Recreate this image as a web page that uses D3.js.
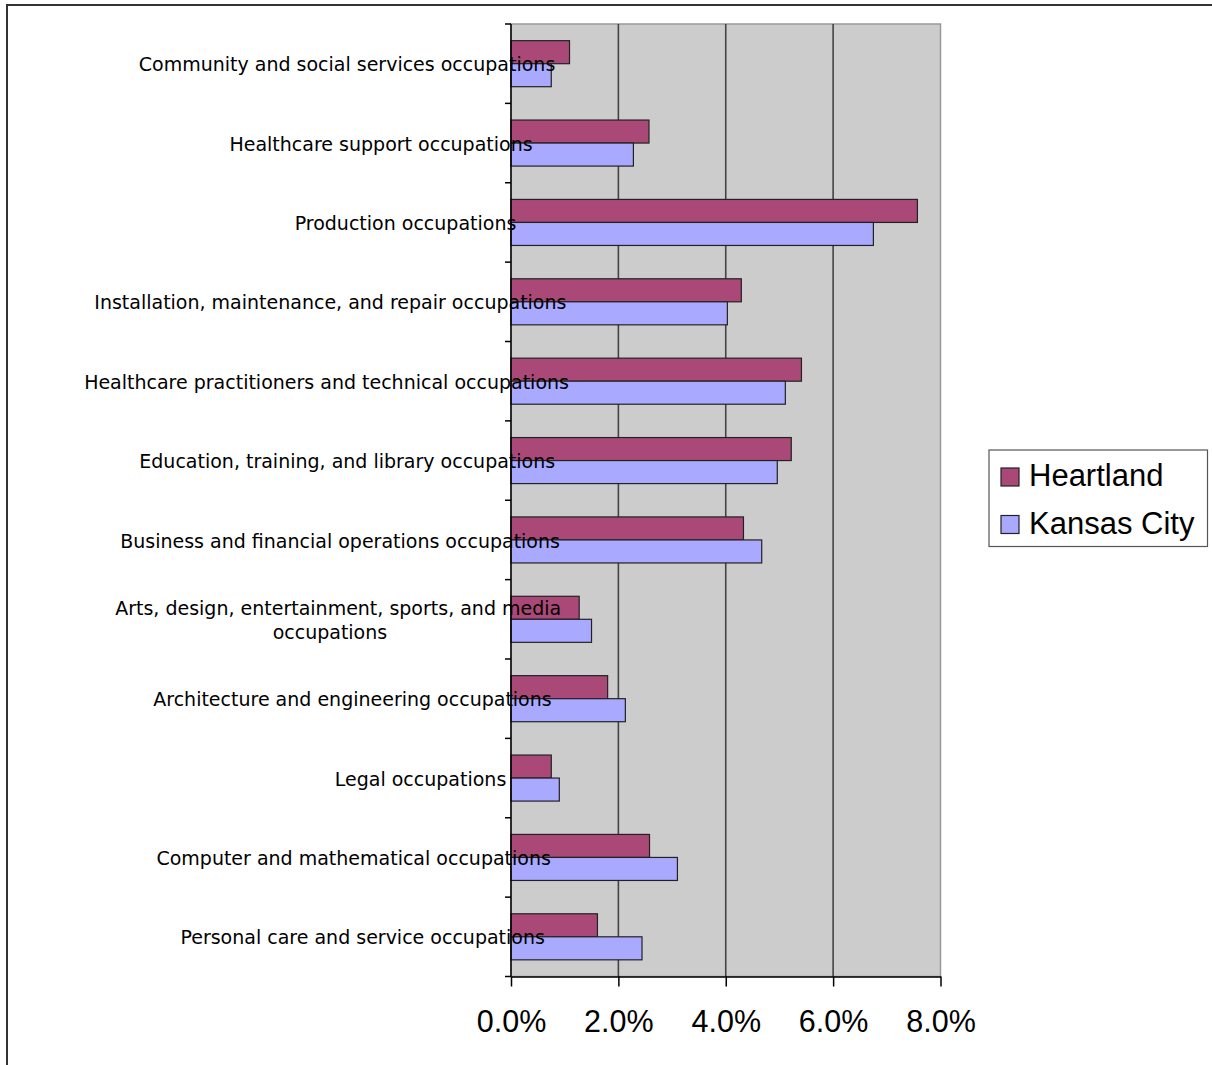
<!DOCTYPE html>
<html>
<head>
<meta charset="utf-8">
<script src="https://cdn.jsdelivr.net/npm/d3@7"></script>
<style>
  html, body { margin: 0; padding: 0; background: #fff; }
  svg { display: block; }
</style>
</head>
<body>
<svg id="chart" width="1212" height="1065"></svg>
<script>
const categories = [
  "Community and social services occupations",
  "Healthcare support occupations",
  "Production occupations",
  "Installation, maintenance, and repair occupations",
  "Healthcare practitioners and technical occupations",
  "Education, training, and library occupations",
  "Business and financial operations occupations",
  "Arts, design, entertainment, sports, and media occupations",
  "Architecture and engineering occupations",
  "Legal occupations",
  "Computer and mathematical occupations",
  "Personal care and service occupations"
];
const seriesNames = ["Heartland", "Kansas City"];
const heartland = [1.09, 2.57, 7.57, 4.29, 5.41, 5.22, 4.33, 1.27, 1.80, 0.75, 2.58, 1.61];
const kansasCity = [0.75, 2.28, 6.75, 4.03, 5.11, 4.96, 4.67, 1.50, 2.13, 0.90, 3.10, 2.44];
const xTicks = [0, 2, 4, 6, 8];
const colors = ["#AA4977", "#A9A9FF"];

const svg = d3.select("#chart");
const plot = { left: 511, right: 940.5, top: 24, bottom: 976.5 };

// outer frame (top + left edges visible)
svg.append("line").attr("x1", 7).attr("x2", 1212).attr("y1", 5).attr("y2", 5)
  .attr("stroke", "#333").attr("stroke-width", 2);
svg.append("line").attr("x1", 7).attr("x2", 7).attr("y1", 4).attr("y2", 1065)
  .attr("stroke", "#333").attr("stroke-width", 2);

const x = d3.scaleLinear().domain([0, 8]).range([plot.left, plot.right]);
const y = d3.scaleBand().domain(categories).range([plot.top, plot.bottom])
  .paddingInner(0.42).paddingOuter(0.21);
const ySub = d3.scaleBand().domain(seriesNames).range([0, y.bandwidth()]);
const step = y.step();

// plot background
svg.append("rect").attr("x", plot.left).attr("y", plot.top)
  .attr("width", plot.right - plot.left).attr("height", plot.bottom - plot.top)
  .attr("fill", "#CCCCCC").attr("stroke", "#999").attr("stroke-width", 1.5);

// gridlines
svg.append("g").selectAll("line").data(xTicks.filter(t => t > 0 && t < 8)).join("line")
  .attr("x1", d => x(d)).attr("x2", d => x(d))
  .attr("y1", plot.top).attr("y2", plot.bottom)
  .attr("stroke", "#444").attr("stroke-width", 1.6);

// bars
const series = [heartland, kansasCity];
series.forEach((vals, si) => {
  svg.append("g").selectAll("rect").data(categories).join("rect")
    .attr("x", x(0))
    .attr("y", d => y(d) + ySub(seriesNames[si]))
    .attr("width", (d, i) => x(vals[i]) - x(0))
    .attr("height", ySub.bandwidth())
    .attr("fill", colors[si])
    .attr("stroke", "#222").attr("stroke-width", 1.2);
});

// x axis
const xAxis = d3.axisBottom(x).tickValues(xTicks).tickFormat(d => d3.format(".1f")(d) + "%")
  .tickSize(10).tickSizeOuter(0).tickPadding(24);
const gx = svg.append("g").attr("transform", `translate(0,${plot.bottom})`).call(xAxis);
gx.select(".domain").attr("stroke", "#000").attr("stroke-width", 1.5);
gx.selectAll(".tick line").attr("stroke", "#000").attr("stroke-width", 1.5);
gx.selectAll(".tick text").attr("font-family", "Liberation Sans, Arial, sans-serif")
  .attr("font-size", 30.5).attr("fill", "#000");

// y axis line and ticks at band boundaries
svg.append("line").attr("x1", plot.left).attr("x2", plot.left)
  .attr("y1", plot.top).attr("y2", plot.bottom).attr("stroke", "#000").attr("stroke-width", 1.5);
const boundaries = d3.range(categories.length + 1).map(i => plot.top + i * step);
svg.append("g").selectAll("line").data(boundaries).join("line")
  .attr("x1", plot.left - 6).attr("x2", plot.left)
  .attr("y1", d => d).attr("y2", d => d)
  .attr("stroke", "#000").attr("stroke-width", 1.5);

// category labels (drawn on top of bars, as in reference)
const labelFont = "DejaVu Sans, Verdana, sans-serif";
const labelSize = 19;
const anchorX = 472;
const maxLine = 520;
const lineH = 24.5;
const labelG = svg.append("g");
const measurer = svg.append("text").attr("font-family", labelFont).attr("font-size", labelSize)
  .attr("visibility", "hidden");
function tw(s) { measurer.text(s); return measurer.node().getComputedTextLength(); }

categories.forEach(cat => {
  const words = cat.split(" ");
  const lines = [];
  let cur = "";
  words.forEach(w => {
    const t = cur ? cur + " " + w : w;
    if (tw(t) > maxLine && cur) { lines.push(cur); cur = w; } else cur = t;
  });
  if (cur) lines.push(cur);
  const widths = lines.map(tw);
  const maxW = d3.max(widths);
  const blockStart = anchorX - 0.8 * maxW;
  const cy = y(cat) + y.bandwidth() / 2;
  lines.forEach((ln, i) => {
    labelG.append("text")
      .attr("x", blockStart + 0.8 * (maxW - widths[i]) / 2 + (lines.length > 1 ? 0.15 * (maxW - widths[i]) / 2 : 0))
      .attr("y", cy + (i - (lines.length - 1) / 2) * lineH)
      .attr("dy", "0.4em")
      .attr("font-family", labelFont).attr("font-size", labelSize)
      .attr("fill", "#000").text(ln);
  });
});
measurer.remove();

// legend
const lg = svg.append("g");
lg.append("rect").attr("x", 989).attr("y", 450).attr("width", 218.5).attr("height", 96.5)
  .attr("fill", "#fff").attr("stroke", "#555").attr("stroke-width", 1.2);
seriesNames.forEach((name, i) => {
  const baseY = 486 + i * 47.5;
  lg.append("rect").attr("x", 1001).attr("y", baseY - 18).attr("width", 18).attr("height", 18)
    .attr("fill", colors[i]).attr("stroke", "#222").attr("stroke-width", 1.2);
  lg.append("text").attr("x", 1029).attr("y", baseY)
    .attr("font-family", "Liberation Sans, Arial, sans-serif").attr("font-size", 31)
    .attr("fill", "#000").text(name);
});
</script>
</body>
</html>
